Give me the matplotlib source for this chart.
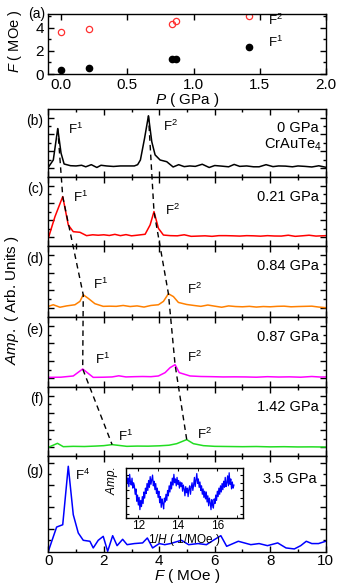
import matplotlib
matplotlib.use("Agg")
import matplotlib.pyplot as plt
from matplotlib.lines import Line2D
from matplotlib.ticker import MultipleLocator, FixedLocator, FormatStrFormatter

plt.rcParams['font.family'] = ['Liberation Sans', 'DejaVu Sans']
plt.rcParams['mathtext.fontset'] = 'custom'
plt.rcParams['mathtext.rm'] = 'Liberation Sans'
plt.rcParams['mathtext.it'] = 'Liberation Sans:italic'
plt.rcParams['mathtext.bf'] = 'Liberation Sans:bold'
plt.rcParams['axes.linewidth'] = 1.0

# (a) frequency vs pressure
pressure = [0.0, 0.21, 0.84, 0.87, 1.42]
f1_freq = [0.35, 0.55, 1.3, 1.3, 2.37]
f2_freq = [3.63, 3.86, 4.37, 4.6, 5.06]

# (b)-(g) FFT spectra
F_b = [0.0, 0.18, 0.34, 0.46, 0.57, 0.8, 1.0, 1.2, 1.35, 1.55, 1.75, 1.9, 2.1, 2.35, 2.6, 2.85, 3.1,
       3.22, 3.32, 3.47, 3.61, 3.73, 3.85, 4.03, 4.27, 4.5, 4.7, 4.9, 5.1, 5.3, 5.55, 5.8, 6.0, 6.25,
       6.5, 6.7, 6.9, 7.15, 7.4, 7.6, 7.85, 8.1, 8.3, 8.55, 8.8, 9.0, 9.25, 9.5, 9.75, 10.0]
amp_b = [1.14, 2.0, 5.7, 2.8, 1.53, 1.33, 1.3, 1.38, 1.2, 1.45, 1.12, 1.38, 1.3, 1.24, 1.3, 1.3, 1.3,
         1.45, 2.0, 4.55, 7.2, 4.15, 2.6, 2.0, 1.8, 1.18, 1.45, 1.22, 1.3, 1.25, 1.5, 1.12, 1.35, 1.28,
         1.2, 1.48, 1.25, 1.3, 1.2, 1.2, 1.45, 1.22, 1.3, 1.28, 1.2, 1.3, 1.25, 1.18, 1.32, 1.15]

F_c = [0.0, 0.24, 0.52, 0.72, 0.9, 1.14, 1.38, 1.6, 1.8, 2.0, 2.2, 2.4, 2.6, 2.8, 3.0, 3.2, 3.49,
       3.67, 3.81, 3.97, 4.15, 4.4, 4.65, 4.9, 5.15, 5.4, 5.65, 5.9, 6.15, 6.4, 6.65, 6.9, 7.15,
       7.4, 7.65, 7.9, 8.15, 8.4, 8.65, 8.9, 9.15, 9.4, 9.65, 10.0]
amp_c = [0.9, 3.4, 5.73, 2.44, 1.66, 1.59, 1.2, 1.3, 1.25, 1.3, 1.22, 1.35, 1.2, 1.32, 1.18, 1.25, 1.36,
         2.44, 3.99, 2.05, 1.27, 1.2, 1.18, 1.3, 1.12, 1.15, 1.18, 1.12, 1.2, 1.2, 1.18, 1.15, 1.2,
         1.18, 1.14, 1.2, 1.16, 1.15, 1.25, 1.12, 1.18, 1.25, 1.15, 1.2]

F_d = [0.0, 0.18, 0.42, 0.66, 0.96, 1.14, 1.26, 1.44, 1.68, 1.98, 2.2, 2.45, 2.7, 2.95, 3.2, 3.45,
       3.7, 3.97, 4.15, 4.33, 4.51, 4.69, 4.99, 5.25, 5.5, 5.75, 6.0, 6.25, 6.5, 6.75, 7.0, 7.25,
       7.5, 7.75, 8.0, 8.25, 8.5, 8.75, 9.0, 9.25, 9.5, 9.75, 10.0]
amp_d = [1.2, 1.38, 1.1, 1.25, 1.38, 1.76, 2.5, 2.1, 1.5, 1.2, 1.22, 1.2, 1.3, 1.18, 1.25, 1.12,
         1.3, 1.38, 1.76, 2.62, 2.3, 1.64, 1.41, 1.3, 1.2, 1.35, 1.22, 1.1, 1.25, 1.18, 1.15, 1.2,
         1.12, 1.18, 1.15, 1.2, 1.22, 1.15, 1.18, 1.2, 1.22, 1.12, 1.05]

F_e = [0.0, 0.45, 0.9, 1.24, 1.62, 2.0, 2.3, 2.54, 2.8, 3.1, 3.4, 3.7, 3.97, 4.21, 4.39, 4.57,
       4.72, 5.11, 5.5, 5.9, 6.3, 6.7, 7.1, 7.5, 7.9, 8.3, 8.7, 9.1, 9.5, 9.8, 10.0]
amp_e = [1.1, 1.12, 1.26, 2.06, 1.1, 1.12, 1.15, 1.28, 1.15, 1.18, 1.2, 1.18, 1.26, 1.64, 2.21, 2.55,
         1.64, 1.26, 1.2, 1.18, 1.15, 1.16, 1.15, 1.12, 1.18, 1.14, 1.16, 1.12, 1.2, 1.14, 1.15]

F_f = [0.0, 0.33, 0.54, 0.9, 1.3, 1.7, 2.0, 2.3, 2.83, 3.2, 3.6, 4.0, 4.35, 4.63, 4.99, 5.23, 5.59,
       6.0, 6.5, 7.0, 7.5, 8.0, 8.5, 9.0, 9.5, 10.0]
amp_f = [1.0, 1.47, 1.08, 1.12, 1.1, 1.15, 1.2, 1.32, 1.12, 1.15, 1.14, 1.18, 1.25, 1.43, 1.9, 1.43,
         1.2, 1.12, 1.1, 1.08, 1.1, 1.06, 1.08, 1.05, 1.06, 1.04]

F_g = [0.0, 0.3, 0.52, 0.72, 0.9, 1.08, 1.26, 1.5, 1.62, 1.8, 1.98, 2.14, 2.32, 2.48, 2.68, 2.84,
       3.1, 3.4, 3.57, 3.76, 4.0, 4.2, 4.4, 4.8, 5.06, 5.4, 5.7, 5.95, 6.22, 6.43, 6.85, 7.3, 7.6,
       7.9, 8.27, 8.57, 8.87, 9.1, 9.3, 9.5, 9.74, 10.0]
amp_g = [-1.04, 1.18, 1.39, 6.73, 2.31, 0.64, -0.03, -0.12, -0.73, -0.03, 0.33, -1.04, 0.39, -0.52,
         0.06, -0.43, -0.33, -0.27, 0.18, -0.73, -0.33, -0.43, -0.33, -0.03, -0.43, -0.33, -0.43,
         -0.03, 0.39, -0.58, -0.12, -0.43, -0.33, -0.52, -0.27, -0.73, -0.82, -0.52, -0.12, -0.33,
         -0.33, -0.12]

# inset: oscillation vs 1/H at 3.5 GPa
inv_h = [11.40, 11.44, 11.48, 11.52, 11.56, 11.60, 11.64, 11.68, 11.72, 11.76,
         11.80, 11.84, 11.88, 11.92, 11.96, 12.00, 12.04, 12.08, 12.12, 12.16,
         12.20, 12.24, 12.28, 12.32, 12.36, 12.40, 12.44, 12.48, 12.52, 12.56,
         12.60, 12.64, 12.68, 12.72, 12.76, 12.80, 12.84, 12.88, 12.92, 12.96,
         13.00, 13.04, 13.08, 13.12, 13.16, 13.20, 13.24, 13.28, 13.32, 13.36,
         13.40, 13.44, 13.48, 13.52, 13.56, 13.60, 13.64, 13.68, 13.72, 13.76,
         13.80, 13.84, 13.88, 13.92, 13.96, 14.00, 14.04, 14.08, 14.12, 14.16,
         14.20, 14.24, 14.28, 14.32, 14.36, 14.40, 14.44, 14.48, 14.52, 14.56,
         14.60, 14.64, 14.68, 14.72, 14.76, 14.80, 14.84, 14.88, 14.92, 14.96,
         15.00, 15.04, 15.08, 15.12, 15.16, 15.20, 15.24, 15.28, 15.32, 15.36,
         15.40, 15.44, 15.48, 15.52, 15.56, 15.60, 15.64, 15.68, 15.72, 15.76,
         15.80, 15.84, 15.88, 15.92, 15.96, 16.00, 16.04, 16.08, 16.12, 16.16,
         16.20, 16.24, 16.28, 16.32, 16.36, 16.40, 16.44, 16.48, 16.52, 16.56,
         16.60, 16.64, 16.68, 16.72, 16.76, 16.80, 16.84]
osc = [2.3, 1.2, 1.9, 0.8, 2.4, 1.4, 1.0, 1.9, 0.6, 1.3,
       0.9, -0.2, 0.5, -1.1, -0.3, -1.6, -0.6, -2.2, -1.0, -1.8,
       -0.5, -1.4, 0.1, -0.7, 0.6, -0.1, 1.2, 0.3, 1.6, 0.7,
       2.1, 1.1, 1.7, 2.3, 0.9, 1.5, 0.4, 1.2, -0.1, 0.6,
       -0.6, 0.2, -1.3, -0.5, -1.9, -0.8, -1.4, -2.1, -0.7, -1.2,
       -0.2, -1.0, 0.3, -0.4, 0.9, 0.1, 1.4, 0.5, 1.9, 1.0,
       2.4, 1.3, 1.8, 0.9, 2.0, 1.1, 1.6, 0.6, 1.4, 0.8,
       1.3, 0.2, 1.0, 0.5, -0.4, 0.8, 0.0, 0.6, -0.5, 0.5,
       0.9, -0.2, 0.7, 1.3, 0.3, 1.0, 2.0, 0.8, 1.6, 2.5,
       1.2, 1.8, 0.7, 1.4, 0.3, 0.9, -0.2, 0.5, -0.6, 0.2,
       -0.8, 0.1, -1.2, -0.4, -1.7, -0.7, -1.3, -2.2, -0.9, -1.6,
       -2.0, -0.8, -1.4, -0.3, -1.0, 0.2, -0.5, 0.6, -0.2, 0.9,
       0.1, 1.2, 0.4, 1.5, 0.7, 2.0, 0.8, 1.3, 2.2, 0.9,
       2.6, 1.1, 1.8, 0.5, 1.4, 0.6, 1.0]

panels = [
    ("(b)", F_b, amp_b, "black", "0 GPa", 2, 20, (0.72, 5.6), (4.13, 6.0)),
    ("(c)", F_c, amp_c, "#ff0000", "0.21 GPa", 2, 18, (0.89, 5.6), (4.21, 4.07)),
    ("(d)", F_d, amp_d, "#ff8000", "0.84 GPa", 6, 19, (1.62, 3.7), (5.0, 3.15)),
    ("(e)", F_e, amp_e, "#ff00ff", "0.87 GPa", 3, 15, (1.68, 3.1), (5.0, 3.4)),
    ("(f)", F_f, amp_f, "#22dd22", "1.42 GPa", 7, 14, (2.51, 2.3), (5.36, 2.55)),
]
# pixel rows of the stacked panels (top, bottom)
rows = [(109, 177), (177, 246), (246, 317), (317, 387), (387, 456), (456, 552)]

W, H = 339, 586
fig = plt.figure(figsize=(W / 100, H / 100), dpi=100)

def style(ax):
    ax.tick_params(which='both', direction='in', top=True, right=True, labelsize=11, pad=3)
    ax.tick_params(which='major', length=4, width=1.0)
    ax.tick_params(which='minor', length=2.5, width=1.0)

# ---- panel (a)
ax_a = fig.add_axes([48 / W, 1 - 74 / H, 278 / W, 60 / H])
ax_a.plot(pressure, f2_freq, 'o', ms=4.5, mfc='none', mec='#ff3030', mew=0.9)
ax_a.plot(pressure, f1_freq, 'o', ms=4.5, color='black')
ax_a.set_xlim(-0.1, 2.0)
ax_a.set_ylim(0, 5.2)
ax_a.xaxis.set_major_locator(MultipleLocator(0.5))
ax_a.xaxis.set_major_formatter(FormatStrFormatter('%.1f'))
ax_a.yaxis.set_major_locator(MultipleLocator(2))
ax_a.yaxis.set_minor_locator(MultipleLocator(1))
style(ax_a)
ax_a.set_xlabel(r"$\it{P}$ ( GPa )", fontsize=11, labelpad=-1)
ax_a.set_ylabel(r"$\it{F}$ ( MOe )", fontsize=10.5)
ax_a.yaxis.set_label_coords(-0.085, 0.55)
ax_a.text(1.56, 4.63, r"F$^2$", fontsize=9.5, va='center')
ax_a.text(1.56, 2.74, r"F$^1$", fontsize=9.5, va='center')
ax_a.text(-0.01, 1.0, "(a)", transform=ax_a.transAxes, ha='right', va='center', fontsize=10)

# ---- stacked spectra
axes = []
for i, (top, bot) in enumerate(rows):
    ax = fig.add_axes([48.3 / W, 1 - bot / H, 277.4 / W, (bot - top) / H])
    ax.set_xlim(0, 10)
    ax.xaxis.set_major_locator(MultipleLocator(2))
    ax.xaxis.set_minor_locator(MultipleLocator(1))
    style(ax)
    if i < 5:
        ax.set_ylim(0, 8)
        ax.yaxis.set_major_locator(FixedLocator([1, 3, 5, 7]))
        ax.yaxis.set_minor_locator(FixedLocator([2, 4, 6]))
        ax.tick_params(labelbottom=False)
    else:
        ax.set_ylim(-1.1, 7.67)
        ax.yaxis.set_major_locator(FixedLocator([1, 3, 5, 7]))
        ax.yaxis.set_minor_locator(FixedLocator([0, 2, 4, 6]))
        ax.tick_params(pad=1.5)
    ax.tick_params(labelleft=False)
    axes.append(ax)

for ax, (lab, F, amp, col, ptxt, i1, i2, t1, t2) in zip(axes, panels):
    ax.plot(F, amp, color=col, lw=1.1)
    ax.text(-0.018, 0.82, lab, transform=ax.transAxes, ha='right', va='center', fontsize=10)
    ax.text(0.975, 0.715, ptxt, transform=ax.transAxes, ha='right', va='center', fontsize=10.5)
    ax.text(t1[0], t1[1], r"F$^1$", fontsize=9.5, va='center')
    ax.text(t2[0], t2[1], r"F$^2$", fontsize=9.5, va='center')
axes[0].text(0.985, 0.48, r"CrAuTe$_4$", transform=axes[0].transAxes, ha='right', va='center',
             fontsize=10.5)

ax_g = axes[5]
ax_g.plot(F_g, amp_g, color='#0000ff', lw=1.1)
ax_g.text(-0.018, 0.84, "(g)", transform=ax_g.transAxes, ha='right', va='center', fontsize=10)
ax_g.text(0.968, 0.76, "3.5 GPa", transform=ax_g.transAxes, ha='right', va='center', fontsize=10.5)
ax_g.text(0.96, 5.93, r"F$^4$", fontsize=9.5, va='center')
ax_g.set_xlabel(r"$\it{F}$ ( MOe )", fontsize=11, labelpad=-0.5)

fig.text(0.035, 0.488, r"$\it{Amp.}$ ( Arb. Units )", rotation=90, ha='center', va='center',
         fontsize=11)

# ---- inset
ax_in = fig.add_axes([125.5 / W, 1 - 517.5 / H, 117.5 / W, 49.5 / H])
ax_in.plot(inv_h, osc, color='#0000ff', lw=0.9)
ax_in.set_xlim(11.35, 17.3)
ax_in.set_ylim(-3.22, 3.22)
ax_in.xaxis.set_major_locator(MultipleLocator(2))
ax_in.xaxis.set_minor_locator(MultipleLocator(1))
ax_in.yaxis.set_major_locator(FixedLocator([-2.7, -1.7, -0.7, 0.3, 1.3, 2.3]))
ax_in.tick_params(which='both', direction='in', top=True, right=True, labelsize=8.5, pad=2,
                  labelleft=False, length=2.5)
ax_in.set_xlabel(r"$\it{1/H}$ ( 1/MOe )", fontsize=8.5, labelpad=-0.5)
ax_in.set_ylabel(r"$\it{Amp.}$", fontsize=8.5, labelpad=1)
ax_in.yaxis.set_label_coords(-0.05, 0.74)

# ---- dashed guide lines joining the peaks
to_fig = fig.transFigure.inverted()
for which in (5, 6):
    pts = []
    for ax, p in zip(axes, panels):
        idx = p[which]
        disp = ax.transData.transform((p[1][idx], p[2][idx]))
        pts.append(to_fig.transform(disp))
    xs = [q[0] for q in pts]
    ys = [q[1] for q in pts]
    fig.add_artist(Line2D(xs, ys, transform=fig.transFigure, color='black', lw=1.0,
                          linestyle=(0, (4, 3)), zorder=5))

fig.savefig("out.png", dpi=100)
